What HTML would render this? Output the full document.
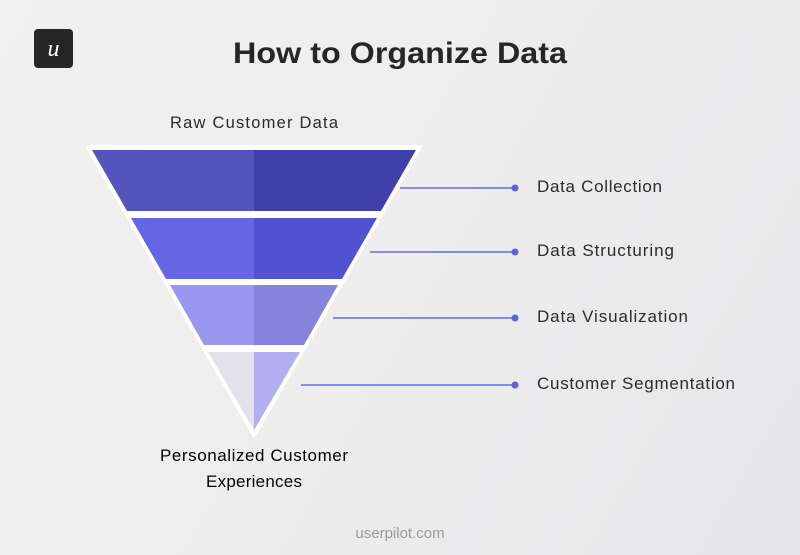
<!DOCTYPE html>
<html><head><meta charset="utf-8"><style>
html,body{margin:0;padding:0}
body{width:800px;height:555px;overflow:hidden;background:linear-gradient(120deg,#f1f1f1 0%,#ededed 50%,#e6e6e9 100%);font-family:"Liberation Sans",sans-serif;color:#2b2b2b}
</style></head><body>
<svg width="800" height="555" viewBox="0 0 800 555" xmlns="http://www.w3.org/2000/svg" style="position:absolute;left:0;top:0">
<rect x="34" y="29" width="39" height="39" rx="4" fill="#262626"/>
<text x="53.5" y="56" text-anchor="middle" font-family="Liberation Serif,serif" font-style="italic" font-size="24" fill="#fff">u</text>
<text x="233" y="63" font-size="30" font-weight="bold" fill="#262626" textLength="334" lengthAdjust="spacingAndGlyphs">How to Organize Data</text>
<text x="170" y="128" font-size="16.5" fill="#2b2b2b" textLength="168" lengthAdjust="spacing">Raw Customer Data</text>
<polygon points="88,147 420,147 254,435" fill="#fff" stroke="#fff" stroke-width="4" stroke-linejoin="round"/>
<polygon points="92,150 254,150 254,211 127,211" fill="#5454bd"/>
<polygon points="254,150 416,150 381,211 254,211" fill="#4040ab"/>
<polygon points="131,218 254,218 254,279 166,279" fill="#6566e4"/>
<polygon points="254,218 377,218 342,279 254,279" fill="#5152d2"/>
<polygon points="170,285 254,285 254,345 204,345" fill="#9a98ee"/>
<polygon points="254,285 338,285 304,345 254,345" fill="#8784dd"/>
<polygon points="208,352 254,352 254,430" fill="#e3e2e8"/>
<polygon points="254,352 300,352 254,430" fill="#b1aff0"/>
<g stroke="#6a6ae6" stroke-width="1.5">
<line x1="400" y1="188" x2="515" y2="188"/>
<line x1="370" y1="252" x2="515" y2="252"/>
<line x1="333" y1="318" x2="515" y2="318"/>
<line x1="301" y1="385" x2="515" y2="385"/>
</g>
<g fill="#5f5fe0">
<circle cx="515" cy="188" r="3.5"/><circle cx="515" cy="252" r="3.5"/>
<circle cx="515" cy="318" r="3.5"/><circle cx="515" cy="385" r="3.5"/>
</g>
<g font-size="17" fill="#2b2b2b">
<text x="537" y="192" textLength="125" lengthAdjust="spacing">Data Collection</text>
<text x="537" y="256" textLength="137" lengthAdjust="spacing">Data Structuring</text>
<text x="537" y="322" textLength="151" lengthAdjust="spacing">Data Visualization</text>
<text x="537" y="389" textLength="198" lengthAdjust="spacing">Customer Segmentation</text>
</g>
<text x="160" y="461" font-size="17" textLength="188" lengthAdjust="spacing">Personalized Customer</text>
<text x="206" y="487" font-size="17" textLength="96" lengthAdjust="spacing">Experiences</text>
<text x="400" y="538" text-anchor="middle" font-size="15" fill="#9a9a9a">userpilot.com</text>
</svg>
</body></html>
